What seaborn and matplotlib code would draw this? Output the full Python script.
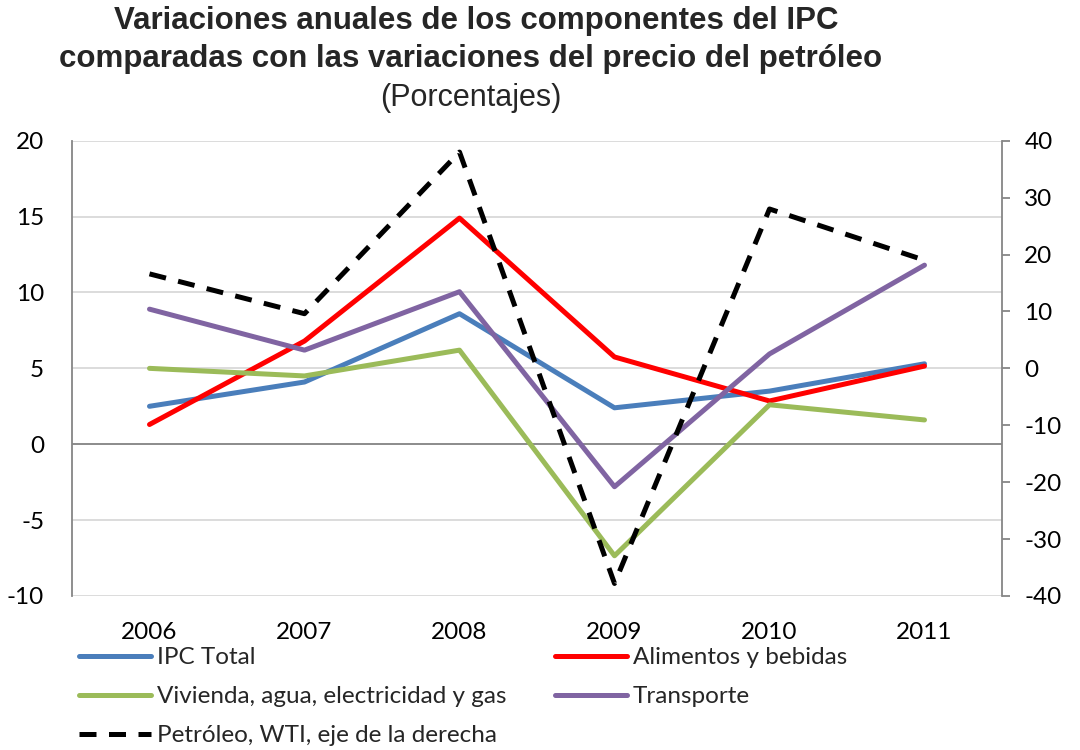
import matplotlib
matplotlib.use("Agg")
import matplotlib.pyplot as plt
import seaborn as sns
import pandas as pd
from matplotlib.lines import Line2D

years = [2006, 2007, 2008, 2009, 2010, 2011]
ipc_total = [2.5, 4.1, 8.6, 2.4, 3.5, 5.3]
alimentos = [1.3, 6.8, 14.9, 5.75, 2.85, 5.15]
vivienda = [5.0, 4.5, 6.2, -7.35, 2.6, 1.6]
transporte = [8.9, 6.2, 10.05, -2.8, 5.95, 11.8]
petroleo = [16.6, 9.6, 38.0, -37.8, 28.0, 19.0]

left_ticks = [-10, -5, 0, 5, 10, 15, 20]
right_ticks = [-40, -30, -20, -10, 0, 10, 20, 30, 40]

labels = ["IPC Total", "Alimentos y bebidas",
          "Vivienda, agua, electricidad y gas", "Transporte",
          "Petróleo, WTI, eje de la derecha"]
colors = ["#4A7EBB", "#FF0000", "#9BBB59", "#8064A2", "#000000"]

sns.set_theme(style="white")
plt.rcParams['font.family'] = ['Lato', 'DejaVu Sans']
plt.rcParams['axes.unicode_minus'] = False

df = pd.DataFrame({"year": years, labels[0]: ipc_total, labels[1]: alimentos,
                   labels[2]: vivienda, labels[3]: transporte, labels[4]: petroleo})

fig = plt.figure(figsize=(10.8, 7.5), dpi=100)
ax = fig.add_axes([72 / 1080, 1 - 596 / 750, 930 / 1080, 455.3 / 750])
ax2 = ax.twinx()

lw = 3.6
for lab, col in zip(labels[:4], colors[:4]):
    sns.lineplot(data=df, x="year", y=lab, ax=ax, color=col, linewidth=lw,
                 legend=False, solid_capstyle="round", zorder=3)
sns.lineplot(data=df, x="year", y=labels[4], ax=ax2, color=colors[4], linewidth=lw,
             legend=False, zorder=3)
ax2.lines[0].set_dashes((3.4, 2.5))

ax.set_xlim(2005.5, 2011.5)
ax.set_ylim(-10, 20)
ax2.set_ylim(-40, 40)
ax.set_yticks(left_ticks)
ax2.set_yticks(right_ticks)
ax.set_xticks(years)
ax.set_xticklabels([str(y) for y in years])
ax.set_xlabel("")
ax.set_ylabel("")
ax2.set_ylabel("")

ax.yaxis.grid(True, color="#D9D9D9", linewidth=1.3)
ax.xaxis.grid(False)
ax.axhline(0, color="#868686", linewidth=1.3, zorder=2)
ax.set_axisbelow(True)

for s in ["top", "bottom", "right"]:
    ax.spines[s].set_visible(False)
for s in ["top", "bottom", "left"]:
    ax2.spines[s].set_visible(False)
ax.spines["left"].set_color("#868686")
ax.spines["left"].set_linewidth(1.3)
ax2.spines["right"].set_color("#868686")
ax2.spines["right"].set_linewidth(1.3)

fs = 17.5
ax.tick_params(axis="y", left=False, labelsize=fs, pad=14, labelcolor="black")
ax.tick_params(axis="x", bottom=False, labelsize=fs, pad=13, labelcolor="black")
ax2.tick_params(axis="y", right=True, direction="out", length=6, width=1.3,
                color="#868686", labelsize=fs, pad=10, labelcolor="black")

# Titles
tfam = ["Liberation Sans", "DejaVu Sans"]
fig.text(0.441, 1 - 21 / 750, "Variaciones anuales de los componentes del IPC",
         ha="center", va="center", fontsize=22.5, fontweight="bold", family=tfam)
fig.text(0.436, 1 - 59 / 750, "comparadas con las variaciones del precio del petróleo",
         ha="center", va="center", fontsize=22.5, fontweight="bold", family=tfam)
fig.text(0.436, 1 - 98 / 750, "(Porcentajes)", ha="center", va="center",
         fontsize=22, family=tfam)

# Legend (column-first ordering)
order = [0, 2, 4, 1, 3]
handles = []
for i in order:
    if i == 4:
        h = Line2D([], [], color=colors[i], linewidth=lw, dashes=(3.4, 2.5))
    else:
        h = Line2D([], [], color=colors[i], linewidth=lw)
    handles.append(h)
fig.legend(handles, [labels[i] for i in order], ncol=2, loc="upper left",
           bbox_to_anchor=(79 / 1080, 1 - 647 / 750), frameon=False,
           fontsize=fs, handlelength=2.95, handletextpad=0.25,
           columnspacing=2.0, labelspacing=0.74, borderpad=0, borderaxespad=0)

fig.savefig("out.png", dpi=100)
